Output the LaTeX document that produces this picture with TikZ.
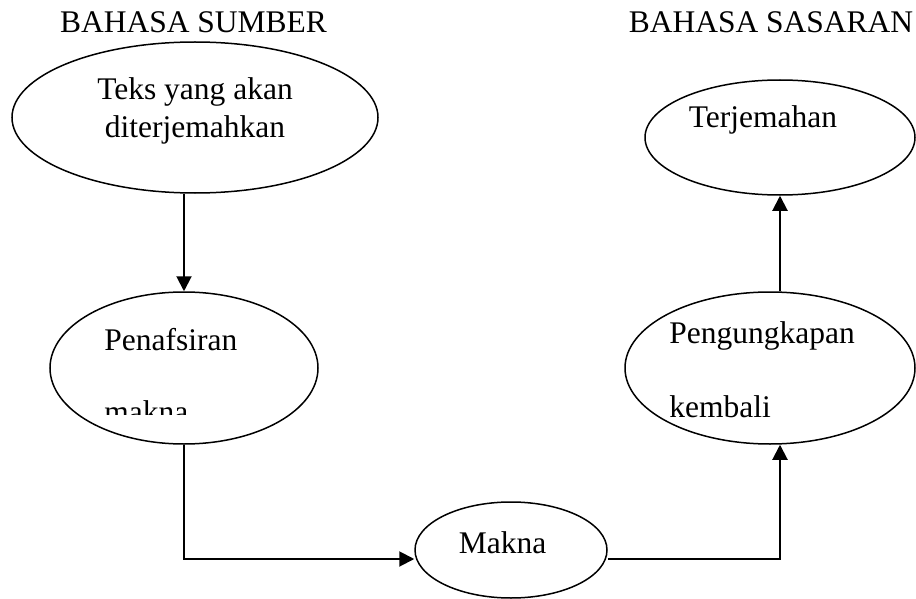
\documentclass[tikz,border=0pt]{standalone}
\usepackage{fontspec}
\setmainfont{Liberation Serif}
\usetikzlibrary{shapes.geometric,arrows.meta}

\begin{document}
\begin{tikzpicture}[x=0.5pt,y=-0.5pt,
  bubble/.style={draw,ellipse,line width=0.75pt,inner sep=0pt},
  word/.style={inner sep=0pt,anchor=base,font=\fontsize{15.75pt}{19pt}\selectfont},
  flow/.style={line width=1pt,-{Triangle[length=7.5pt,width=7.5pt]}}]
  \useasboundingbox (0,0) rectangle (916,599);
  % headings
  \node[word] (sumber)  at (193.5,33) {BAHASA SUMBER};
  \node[word] (sasaran) at (771,33)   {BAHASA SASARAN};
  % ellipses
  \node[bubble,minimum width=183pt,minimum height=75.5pt] (teks)   at (195,117.5) {};
  \node[bubble,minimum width=135pt,minimum height=57.5pt] (hasil)  at (780,137.5) {};
  \node[bubble,minimum width=134pt,minimum height=76pt]   (tafsir) at (184,368) {};
  \node[bubble,minimum width=145pt,minimum height=76pt]   (ungkap) at (770,368) {};
  \node[bubble,minimum width=96pt,minimum height=48pt]    (makna)  at (511,550) {};
  % texts (base = last line)
  \node[word,align=center] (teksisi) at (195,138) {Teks yang akan\\diterjemahkan};
  \node[word] (hasilisi) at (763,128) {Terjemahan};
  \begin{scope}
    \clip (0,0) rectangle (916,414);
    \node[word,anchor=base west,align=left] (tafsirisi) at (104,422) {Penafsiran\\[17pt]makna};
  \end{scope}
  \node[word,anchor=base west,align=left] (ungkapisi) at (669,417) {Pengungkapan\\[18pt]kembali};
  \node[word] (maknaisi) at (502.5,553) {Makna};
  % arrows
  \coordinate (low) at (0,559);
  \draw[flow] (tafsir.north |- teks.south) -- (tafsir.north);
  \draw[flow] (tafsir.south) |- (makna.west |- low);
  \draw[flow] (makna.east |- low) -| (hasil.south |- ungkap.south);
  \draw[flow] (hasil.south |- ungkap.north) -- (hasil.south);
\end{tikzpicture}
\end{document}
